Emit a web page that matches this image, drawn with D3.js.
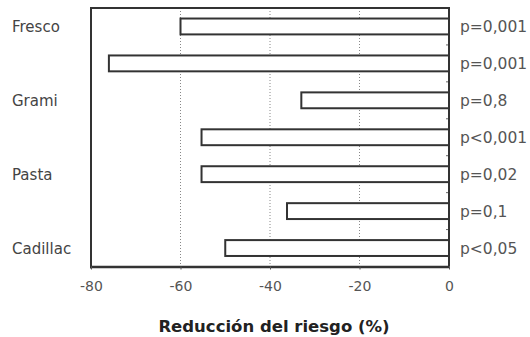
<html lang="es">
<head>
<meta charset="utf-8">
<title>Reducción del riesgo</title>
<script src="https://cdnjs.cloudflare.com/ajax/libs/d3/7.8.5/d3.min.js"></script>
<style>
  body { margin: 0; background: #fff; }
  text { font-family: "DejaVu Sans", sans-serif; }
</style>
</head>
<body>
<div id="chart"></div>
<script>
// datos
var rowLabels = ["Fresco", "", "Grami", "", "Pasta", "", "Cadillac"];
var values = [-60, -76, -33, -55.3, -55.3, -36.2, -50];
var pLabels = ["p=0,001", "p=0,001", "p=0,8", "p<0,001", "p=0,02", "p=0,1", "p<0,05"];
var tickValues = [-80, -60, -40, -20, 0];
var gridValues = [-60, -40, -20];

var W = 530, H = 337;
var plot = {left: 91, right: 449, top: 8, bottom: 266.5};

var svg = d3.select("#chart").append("svg")
    .attr("width", W).attr("height", H);

var x = d3.scaleLinear().domain([-80, 0]).range([plot.left, plot.right]);

var y = d3.scaleBand()
    .domain(d3.range(values.length))
    .range([plot.top, plot.bottom])
    .paddingInner(0.57)
    .paddingOuter(0.285);

// rejilla punteada
svg.selectAll("line.grid")
    .data(gridValues)
    .enter().append("line")
    .attr("class", "grid")
    .attr("x1", function(d) { return x(d); })
    .attr("x2", function(d) { return x(d); })
    .attr("y1", plot.top)
    .attr("y2", plot.bottom)
    .attr("stroke", "#888")
    .attr("stroke-width", 1)
    .attr("stroke-dasharray", "1,2");

// barras
svg.selectAll("rect.bar")
    .data(values)
    .enter().append("rect")
    .attr("class", "bar")
    .attr("x", function(d) { return x(d); })
    .attr("y", function(d, i) { return y(i); })
    .attr("width", function(d) { return x(0) - x(d); })
    .attr("height", y.bandwidth())
    .attr("fill", "#fff")
    .attr("stroke", "#333")
    .attr("stroke-width", 2);

// marquitas en el eje derecho entre barras
var step = y.step();
svg.selectAll("line.rtick")
    .data(d3.range(1, values.length))
    .enter().append("line")
    .attr("class", "rtick")
    .attr("x1", plot.right - 3)
    .attr("x2", plot.right)
    .attr("y1", function(d) { return plot.top + d * step; })
    .attr("y2", function(d) { return plot.top + d * step; })
    .attr("stroke", "#666")
    .attr("stroke-width", 1);

// marco
svg.append("path")
    .attr("d", "M" + plot.left + "," + (plot.bottom + 2) +
               "V" + plot.top + "H" + plot.right + "V" + plot.bottom)
    .attr("fill", "none")
    .attr("stroke", "#333")
    .attr("stroke-width", 2);

// eje x (guion normal, no signo menos)
var xAxis = d3.axisBottom(x)
    .tickValues(tickValues)
    .tickSizeInner(3)
    .tickSizeOuter(0)
    .tickPadding(12)
    .tickFormat(function(d) { return String(d); });

var gx = svg.append("g")
    .attr("transform", "translate(0," + plot.bottom + ")")
    .call(xAxis);
gx.select(".domain").attr("stroke", "#333").attr("stroke-width", 2.5);
gx.selectAll(".tick line").attr("stroke", "#555");
gx.selectAll(".tick text")
    .attr("font-family", "DejaVu Sans")
    .attr("font-size", 14)
    .attr("fill", "#555");

// etiquetas izquierda
svg.selectAll("text.row")
    .data(rowLabels)
    .enter().append("text")
    .attr("class", "row")
    .attr("x", 12)
    .attr("y", function(d, i) { return y(i) + y.bandwidth() / 2 + 5.5; })
    .attr("font-size", 15)
    .attr("fill", "#444")
    .text(function(d) { return d; });

// valores p
svg.selectAll("text.p")
    .data(pLabels)
    .enter().append("text")
    .attr("class", "p")
    .attr("x", 460)
    .attr("y", function(d, i) { return y(i) + y.bandwidth() / 2 + 6; })
    .attr("font-size", 15.5)
    .attr("fill", "#555")
    .text(function(d) { return d; });

// título del eje
svg.append("text")
    .attr("x", 274)
    .attr("y", 332)
    .attr("text-anchor", "middle")
    .attr("font-size", 16.5)
    .attr("font-weight", "bold")
    .attr("fill", "#222")
    .text("Reducción del riesgo (%)");
</script>
</body>
</html>
